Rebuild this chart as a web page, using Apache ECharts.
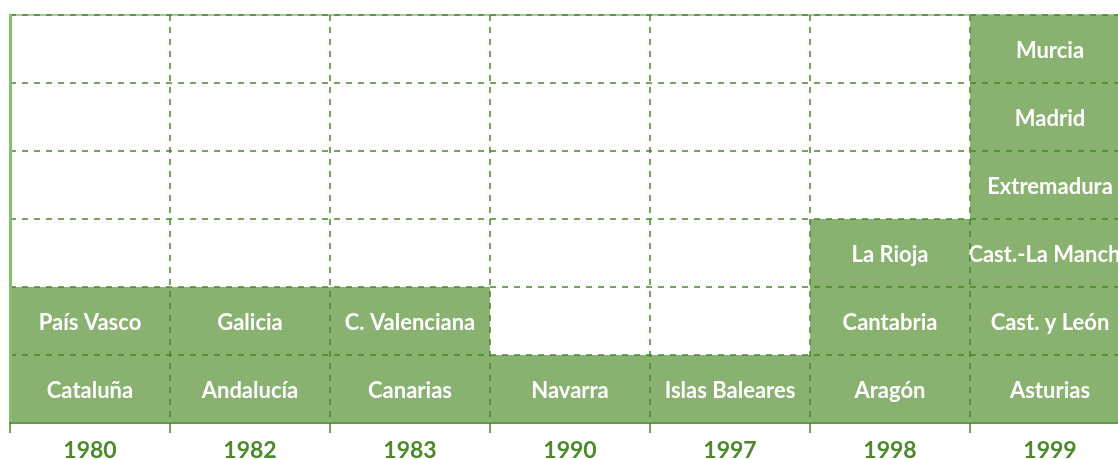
<!DOCTYPE html>
<html>
<head>
<meta charset="utf-8">
<script src="https://cdn.jsdelivr.net/npm/echarts@6/dist/echarts.min.js"></script>
<style>
  html, body { margin: 0; padding: 0; background: #fff; }
  #main { width: 1118px; height: 459px; }
</style>
</head>
<body>
<div id="main"></div>
<script>
var years = ['1980', '1982', '1983', '1990', '1997', '1998', '1999'];
// regions per year, listed from the bottom row upwards
var regions1980 = ['Cataluña', 'País Vasco'];
var regions1982 = ['Andalucía', 'Galicia'];
var regions1983 = ['Canarias', 'C. Valenciana'];
var regions1990 = ['Navarra'];
var regions1997 = ['Islas Baleares'];
var regions1998 = ['Aragón', 'Cantabria', 'La Rioja'];
var regions1999 = ['Asturias', 'Cast. y León', 'Cast.-La Mancha', 'Extremadura', 'Madrid', 'Murcia'];
var regions = [regions1980, regions1982, regions1983, regions1990, regions1997, regions1998, regions1999];
var levels = 6;

var chart = echarts.init(document.getElementById('main'));

var lineColor = 'rgba(70,135,40,0.75)';
var series = [];
for (var lv = 0; lv < levels; lv++) {
  (function (lv) {
    var data = [];
    for (var i = 0; i < regions.length; i++) {
      data.push(lv < regions[i].length ? 1 : '-');
    }
    series.push({
      type: 'bar',
      stack: 'total',
      barCategoryGap: '0%',
      data: data,
      itemStyle: { color: '#89b170' },
      label: {
        show: true,
        position: 'inside',
        offset: [0, 2],
        color: '#fff',
        fontFamily: 'Lato',
        fontWeight: 'bold',
        fontSize: 22,
        formatter: function (p) { return regions[p.dataIndex][lv]; }
      },
      silent: true
    });
  })(lv);
}

var option = {
  animation: false,
  grid: {
    left: 10,
    top: 15,
    width: 1120,
    height: 408,
    containLabel: false,
    outerBoundsMode: 'none',
    show: true,
    borderColor: '#a8cc94',
    borderWidth: 2
  },
  xAxis: {
    type: 'category',
    data: years,
    z: 5,
    axisLine: { lineStyle: { color: '#5f9a44', width: 2 } },
    axisTick: { show: true, length: 10, lineStyle: { color: lineColor, width: 2 } },
    axisLabel: {
      color: '#4a8a2a',
      fontFamily: 'Lato',
      fontWeight: 'bold',
      fontSize: 23,
      margin: 16
    },
    splitLine: {
      show: true,
      lineStyle: { color: lineColor, width: 2, type: [6, 6] }
    }
  },
  yAxis: {
    type: 'value',
    min: 0,
    max: levels,
    interval: 1,
    z: 5,
    axisLine: { show: true, lineStyle: { color: '#8dbb74', width: 3 } },
    axisTick: { show: false },
    axisLabel: { show: false },
    splitLine: {
      show: true,
      lineStyle: { color: lineColor, width: 2, type: [6, 6] }
    }
  },
  series: series
};

chart.setOption(option);
</script>
</body>
</html>
